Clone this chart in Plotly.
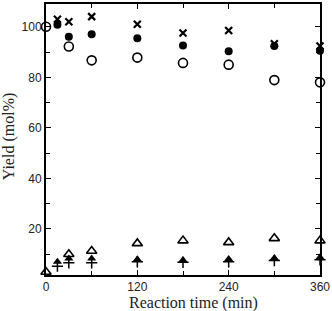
import plotly.graph_objects as go

t_main = [15, 30, 60, 120, 180, 240, 300, 360]
cross_vals = [103, 102, 104, 101, 97.5, 98.5, 93.3, 92.4]
filled_circ = [100.8, 96, 97, 95.5, 92.6, 90.3, 92.4, 90.5]
t_open = [0, 30, 60, 120, 180, 240, 300, 360]
open_circ = [100, 92.2, 86.7, 87.8, 85.7, 85.0, 78.9, 78.0]

t_low = [0, 15, 30, 60, 120, 180, 240, 300, 360]
open_tri = [3.0, None, 10.0, 11.3, 14.3, 15.4, 14.7, 16.3, 15.4]
t_f = [15, 30, 60, 120, 180, 240, 300, 360]
filled_tri = [7.0, 8.3, 8.3, 8.0, 7.7, 8.1, 8.5, 8.8]
plus_vals = [5.3, 6.6, 6.6, 7.0, 6.8, 7.0, 7.5, 7.8]

x_title = "Reaction time (min)"
y_title = "Yield (mol%)"

fig = go.Figure()
blk = "black"
fig.add_trace(go.Scatter(x=t_open, y=open_circ, mode="markers", cliponaxis=False,
                         marker=dict(symbol="circle-open", size=9, color=blk, line=dict(width=1.6))))
fig.add_trace(go.Scatter(x=t_main, y=filled_circ, mode="markers", cliponaxis=False,
                         marker=dict(symbol="circle", size=8, color=blk)))
fig.add_trace(go.Scatter(x=t_main, y=cross_vals, mode="markers", cliponaxis=False,
                         marker=dict(symbol="x-thin-open", size=7, color=blk, line=dict(width=2.2, color=blk))))
fig.add_trace(go.Scatter(x=t_low, y=open_tri, mode="markers", cliponaxis=False,
                         marker=dict(symbol="triangle-up-open", size=9, color=blk, line=dict(width=1.6))))
fig.add_trace(go.Scatter(x=t_f, y=plus_vals, mode="markers", cliponaxis=False,
                         marker=dict(symbol="cross-thin-open", size=8, color=blk, line=dict(width=1.5, color=blk))))
fig.add_trace(go.Scatter(x=t_f, y=filled_tri, mode="markers", cliponaxis=False,
                         marker=dict(symbol="triangle-up", size=8, color=blk)))

axis_common = dict(showline=True, linecolor=blk, linewidth=2, mirror="ticks",
                   ticks="inside", ticklen=5, tickwidth=1, tickcolor=blk,
                   showgrid=False, zeroline=False,
                   tickfont=dict(family="Liberation Sans", size=12, color="#222"))

title_font = dict(family="Liberation Serif", size=16, color="#222")

fig.update_layout(
    width=332, height=311,
    margin=dict(l=46, r=11, t=2, b=36),
    paper_bgcolor="white", plot_bgcolor="white",
    showlegend=False,
    xaxis=dict(range=[0, 360], tick0=0, dtick=120,
               minor=dict(dtick=60, ticks="inside", ticklen=4, tickcolor=blk),
               **axis_common),
    yaxis=dict(range=[1.8, 109], tick0=0, dtick=20,
               minor=dict(dtick=10, ticks="inside", ticklen=4, tickcolor=blk),
               **axis_common),
    annotations=[
        dict(text=x_title, xref="paper", yref="paper", x=0.538, y=0, yshift=-28,
             xanchor="center", yanchor="middle", showarrow=False, font=title_font),
        dict(text=y_title, xref="paper", yref="paper", x=0, y=0.512, xshift=-37,
             xanchor="center", yanchor="middle", textangle=-90, showarrow=False,
             font=title_font),
    ],
)
fig.write_html("out.html", config={"displayModeBar": False},
               post_script="document.body.style.margin='0';document.body.style.overflow='hidden';")
